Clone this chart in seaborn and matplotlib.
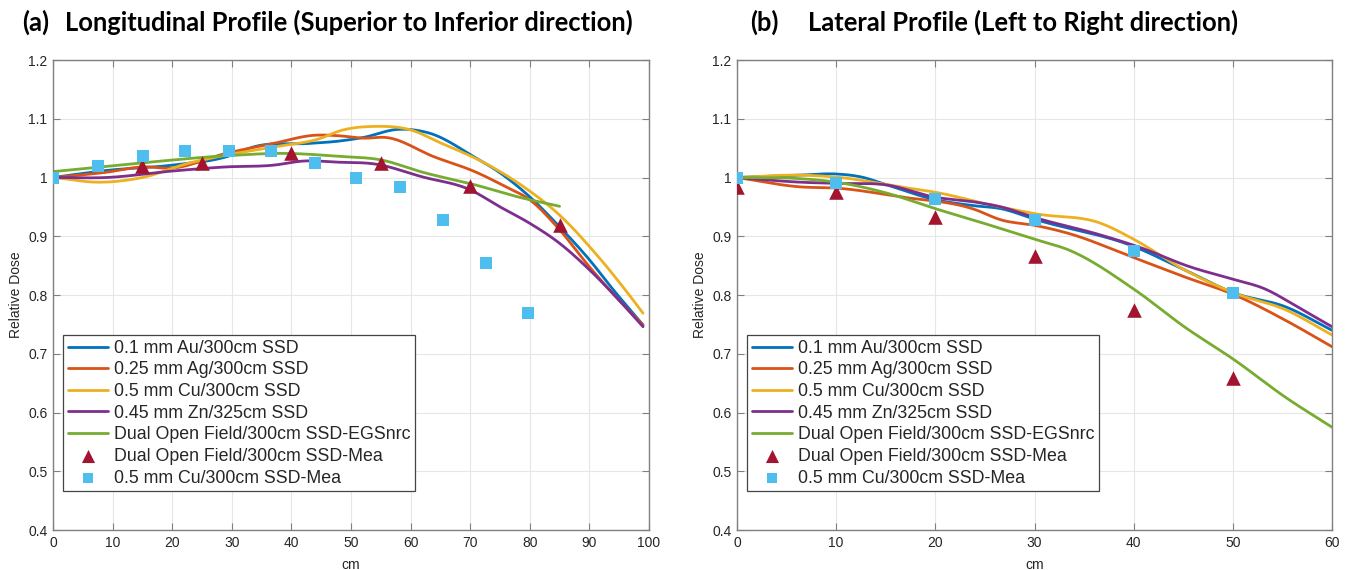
import numpy as np
import pandas as pd
import matplotlib
matplotlib.use("Agg")
import matplotlib.pyplot as plt
import seaborn as sns
from matplotlib.ticker import FuncFormatter

# ---- (a) longitudinal profile, simulated curves ----
long_au_x = [0, 9, 20, 29, 34, 43, 48, 52, 58, 63, 71, 75, 80, 85, 90, 94, 99]
long_au_y = [1.0, 1.012, 1.021, 1.035, 1.053, 1.058, 1.062, 1.068, 1.082, 1.076, 1.033, 1.008, 0.967, 0.916, 0.86, 0.809, 0.749]
long_ag_x = [0, 9, 15, 20, 29, 37, 44, 48, 52, 56, 64, 71, 76, 80, 85, 90, 96, 99]
long_ag_y = [1.0, 1.009, 1.018, 1.016, 1.041, 1.058, 1.072, 1.071, 1.067, 1.068, 1.035, 1.009, 0.984, 0.962, 0.911, 0.848, 0.78, 0.749]
long_cu_x = [0, 8, 15, 23, 29, 37, 45, 48, 54, 60, 65, 72, 79, 85, 91, 96, 99]
long_cu_y = [1.0, 0.992, 1.0, 1.025, 1.038, 1.052, 1.067, 1.079, 1.087, 1.081, 1.059, 1.027, 0.984, 0.936, 0.871, 0.809, 0.769]
long_zn_x = [0, 9, 20, 29, 37, 42, 48, 54, 62, 70, 75, 80, 85, 90, 95, 99]
long_zn_y = [1.0, 1.0, 1.011, 1.018, 1.021, 1.028, 1.026, 1.023, 1.001, 0.979, 0.95, 0.922, 0.888, 0.843, 0.791, 0.746]
long_open_x = [0, 15, 29, 39, 48, 55, 62, 71, 78, 85]
long_open_y = [1.01, 1.025, 1.037, 1.041, 1.036, 1.03, 1.009, 0.987, 0.967, 0.951]
# measurements
long_tri_x = [15, 25, 40, 55, 70, 85]
long_tri_y = [1.02, 1.025, 1.042, 1.025, 0.986, 0.92]
long_sq_x = [0, 7.6, 15.1, 22.2, 29.6, 36.6, 43.9, 50.9, 58.2, 65.4, 72.6, 79.7]
long_sq_y = [1.0, 1.019, 1.037, 1.045, 1.045, 1.045, 1.024, 1.0, 0.983, 0.927, 0.854, 0.77]

# ---- (b) lateral profile ----
lat_au_x = [0, 6.4, 10, 12.5, 15.2, 19.8, 23.9, 26.6, 30.2, 40.1, 45.1, 50.2, 55.3, 60]
lat_au_y = [1.0, 1.004, 1.006, 1.001, 0.987, 0.963, 0.952, 0.947, 0.928, 0.882, 0.843, 0.803, 0.78, 0.74]
lat_ag_x = [0, 6.4, 10, 16.5, 23.9, 26.6, 30.2, 33.4, 40.1, 45.1, 50.2, 55.3, 60]
lat_ag_y = [1.0, 0.984, 0.982, 0.967, 0.946, 0.928, 0.918, 0.905, 0.863, 0.831, 0.8, 0.757, 0.712]
lat_cu_x = [0, 6.4, 10.4, 16.5, 20.6, 24.9, 30.2, 36.7, 40.1, 45.1, 50.2, 55.3, 60]
lat_cu_y = [1.0, 1.004, 1.0, 0.984, 0.973, 0.956, 0.938, 0.922, 0.894, 0.843, 0.803, 0.775, 0.732]
lat_zn_x = [0, 6.4, 10, 15.2, 19.8, 24.1, 26.6, 30.2, 36.7, 40.8, 45.5, 50.2, 53, 57, 60]
lat_zn_y = [1.0, 0.992, 0.99, 0.987, 0.967, 0.958, 0.95, 0.931, 0.902, 0.88, 0.849, 0.826, 0.812, 0.775, 0.746]
lat_open_x = [0, 6.4, 10, 15.2, 19.8, 24.9, 30.2, 33.4, 40.1, 45.1, 50.2, 55.3, 60]
lat_open_y = [1.0, 0.998, 0.992, 0.973, 0.948, 0.922, 0.894, 0.877, 0.809, 0.746, 0.689, 0.626, 0.575]
lat_tri_x = [0, 10, 20, 30, 40, 50]
lat_tri_y = [0.984, 0.976, 0.933, 0.866, 0.774, 0.659]
lat_sq_x = [0, 10, 20, 30, 40, 50]
lat_sq_y = [1.0, 0.99, 0.963, 0.928, 0.875, 0.803]

labels = ["0.1 mm Au/300cm SSD", "0.25 mm Ag/300cm SSD", "0.5 mm Cu/300cm SSD",
          "0.45 mm Zn/325cm SSD", "Dual Open Field/300cm SSD-EGSnrc",
          "Dual Open Field/300cm SSD-Mea", "0.5 mm Cu/300cm SSD-Mea"]
line_colors = ["#0072BD", "#D95319", "#EDB120", "#7E2F8E", "#77AC30"]
tri_color = "#A2142F"
sq_color = "#4DBEEE"

sns.set_theme(style="whitegrid")
plt.rcParams['font.family'] = ['Liberation Sans', 'DejaVu Sans']

fig = plt.figure(figsize=(13.52, 5.7), dpi=100)
ax1 = fig.add_axes([53 / 1352, 40 / 570, 596 / 1352, 470 / 570])
ax2 = fig.add_axes([737 / 1352, 40 / 570, 595 / 1352, 470 / 570])


def smooth(xs, ys):
    # cubic hermite through the read points, just so the curves look smooth
    xs = np.asarray(xs, float)
    ys = np.asarray(ys, float)
    xd = np.linspace(xs[0], xs[-1], 300)
    m = np.gradient(ys, xs)
    idx = np.clip(np.searchsorted(xs, xd) - 1, 0, len(xs) - 2)
    h = xs[idx + 1] - xs[idx]
    t = (xd - xs[idx]) / h
    h00 = 2 * t**3 - 3 * t**2 + 1
    h10 = t**3 - 2 * t**2 + t
    h01 = -2 * t**3 + 3 * t**2
    h11 = t**3 - t**2
    yd = h00 * ys[idx] + h10 * h * m[idx] + h01 * ys[idx + 1] + h11 * h * m[idx + 1]
    return xd, yd


def draw(ax, curves, tri, sq, xmax):
    for (cx, cy), col, lab in zip(curves, line_colors, labels[:5]):
        xd, yd = smooth(cx, cy)
        sns.lineplot(x=xd, y=yd, ax=ax, color=col, lw=2.0, label=lab, sort=False)
    sns.scatterplot(x=tri[0], y=tri[1], ax=ax, marker='^', s=110, color=tri_color,
                    linewidth=0, label=labels[5], zorder=5)
    sns.scatterplot(x=sq[0], y=sq[1], ax=ax, marker='s', s=64, color=sq_color,
                    linewidth=0, label=labels[6], zorder=6)
    ax.set_xlim(0, xmax)
    ax.set_ylim(0.4, 1.2)
    ax.set_xticks(np.arange(0, xmax + 1, 10))
    ax.set_yticks(np.arange(0.4, 1.21, 0.1))
    ax.yaxis.set_major_formatter(FuncFormatter(lambda v, p: f"{v:g}"))
    ax.set_facecolor("white")
    ax.grid(True, color="#e6e6e6", lw=0.8)
    for sp in ax.spines.values():
        sp.set_visible(True)
        sp.set_color("#808080")
        sp.set_linewidth(1.0)
    ax.tick_params(direction='in', length=5, width=0.8, color="#808080",
                   top=True, right=True, bottom=True, left=True,
                   labelsize=10, labelcolor="#262626", pad=4)
    ax.set_xlabel("cm", fontsize=10, color="#262626", labelpad=6)
    ax.set_ylabel("Relative Dose", fontsize=10, color="#262626", labelpad=4)
    leg = ax.legend(loc='lower left', bbox_to_anchor=(0.017, 0.083), borderaxespad=0,
                    fontsize=12.8, frameon=True, fancybox=False, framealpha=1,
                    edgecolor="#444444", handlelength=2.3, handletextpad=0.3,
                    labelspacing=0.26, borderpad=0.25, markerscale=0.9)
    leg.get_frame().set_linewidth(0.9)


draw(ax1,
     [(long_au_x, long_au_y), (long_ag_x, long_ag_y), (long_cu_x, long_cu_y),
      (long_zn_x, long_zn_y), (long_open_x, long_open_y)],
     (long_tri_x, long_tri_y), (long_sq_x, long_sq_y), 100)
draw(ax2,
     [(lat_au_x, lat_au_y), (lat_ag_x, lat_ag_y), (lat_cu_x, lat_cu_y),
      (lat_zn_x, lat_zn_y), (lat_open_x, lat_open_y)],
     (lat_tri_x, lat_tri_y), (lat_sq_x, lat_sq_y), 60)

tfont = dict(family=['Lato', 'DejaVu Sans'], fontweight='bold', fontsize=18.4,
             va='center', ha='left', color='black')
fig.text(22 / 1352, 1 - 22 / 570, "(a)", **tfont)
fig.text(65 / 1352, 1 - 22 / 570, "Longitudinal Profile (Superior to Inferior direction)", **tfont)
fig.text(750 / 1352, 1 - 22 / 570, "(b)", **tfont)
fig.text(808 / 1352, 1 - 22 / 570, "Lateral Profile (Left to Right direction)", **tfont)

fig.savefig("out.png", dpi=100, facecolor="white")
